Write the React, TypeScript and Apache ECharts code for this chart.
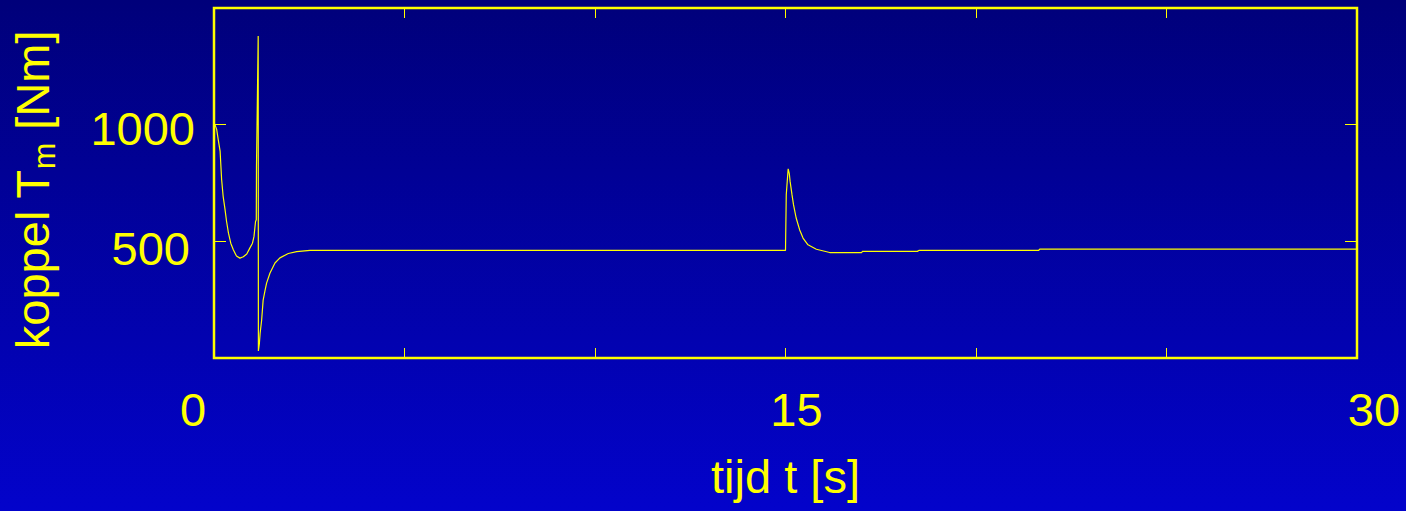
import React, { useEffect, useRef } from "react";
import * as echarts from "echarts";

// Motor torque T_m [Nm] against time t [s]
const timeS: number[] = [
  0, 0.03, 0.07, 0.11, 0.16, 0.2, 0.24, 0.29, 0.33, 0.38, 0.44, 0.51, 0.59, 0.68, 0.77, 0.86, 0.94, 1.01, 1.05,
  1.09, 1.11, 1.115, 1.16, 1.165, 1.19, 1.21, 1.25, 1.29, 1.34, 1.38, 1.47, 1.6, 1.73, 1.95, 2.17, 2.52,
  15.0, 15.02, 15.07, 15.1, 15.12, 15.17, 15.21, 15.28, 15.37, 15.46, 15.59, 15.81, 16.16, 17.0, 17.02, 18.46, 18.5,
  21.64, 21.68, 30,
];
const torqueNm: number[] = [
  1000, 998, 980, 937, 887, 765, 693, 636, 585, 535, 492, 463, 437, 428, 434, 446, 471, 492, 521,
  585, 592, 821, 1380, 30, 60, 105, 162, 248, 290, 321, 364, 407, 429, 448, 456, 461,
  461, 700, 811, 790, 758, 700, 657, 600, 550, 514, 485, 466, 452, 452, 457, 457, 461,
  461, 467, 467,
];

const xTicks = { min: 0, max: 30, step: 5 };
const xLabelled: number[] = [0, 15, 30];
const yTicks = { min: 0, max: 1500, step: 500 };
const yLabelled: number[] = [500, 1000];

const xTitle = "tijd t [s]";
const yTitleMain = "koppel T";
const yTitleSub = "m";
const yTitleUnit = " [Nm]";

const FONT = "'Liberation Sans', Arial, Helvetica, sans-serif";
const YELLOW = "#ffff00";

export default function App() {
  const ref = useRef<HTMLDivElement>(null);

  useEffect(() => {
    if (!ref.current) return;
    const chart = echarts.init(ref.current, undefined, { renderer: "svg" });

    const series = timeS.map((t, i) => [t, torqueNm[i]]);

    const tickStyle = { show: true, inside: true, lineStyle: { color: YELLOW, width: 1 } };
    const hiddenLine = { show: false, onZero: false };

    // per-label nudges for the large tick labels
    const xRich: Record<string, any> = {
      l: { fontSize: 47, fontFamily: FONT, color: YELLOW, padding: [0, 42, 0, 0] },
      m: { fontSize: 47, fontFamily: FONT, color: YELLOW, padding: [0, 0, 0, 22] },
      r: { fontSize: 47, fontFamily: FONT, color: YELLOW, padding: [0, 0, 0, 34] },
    };
    const yRich: Record<string, any> = {
      a: { fontSize: 47, fontFamily: FONT, color: YELLOW, padding: [15, 5, 0, 0] },
      b: { fontSize: 47, fontFamily: FONT, color: YELLOW, padding: [7, 0, 0, 0] },
    };

    chart.setOption({
      animation: false,
      backgroundColor: new echarts.graphic.LinearGradient(0, 0, 0, 1, [
        { offset: 0, color: "#00007a" },
        { offset: 1, color: "#0303cb" },
      ]),
      grid: {
        left: 214,
        top: 8,
        width: 1143,
        height: 350,
        show: true,
        borderColor: YELLOW,
        borderWidth: 2.5,
        backgroundColor: "transparent",
        containLabel: false,
      },
      xAxis: [
        {
          type: "value",
          min: xTicks.min,
          max: xTicks.max,
          interval: xTicks.step,
          position: "bottom",
          axisLine: hiddenLine,
          axisTick: { ...tickStyle, length: 10 },
          splitLine: { show: false },
          axisLabel: {
            margin: 28,
            color: YELLOW,
            fontSize: 47,
            fontFamily: FONT,
            formatter: (v: number) => {
              if (!xLabelled.includes(v)) return "";
              const key = v === xLabelled[0] ? "l" : v === xLabelled[xLabelled.length - 1] ? "r" : "m";
              return `{${key}|${v}}`;
            },
            rich: xRich,
          },
          name: xTitle,
          nameLocation: "middle",
          nameGap: 95,
          nameTextStyle: { color: YELLOW, fontSize: 47, fontFamily: FONT },
        },
        {
          type: "value",
          min: xTicks.min,
          max: xTicks.max,
          interval: xTicks.step,
          position: "top",
          axisLine: hiddenLine,
          axisTick: { ...tickStyle, length: 10 },
          splitLine: { show: false },
          axisLabel: { show: false },
        },
      ],
      yAxis: [
        {
          type: "value",
          min: yTicks.min,
          max: yTicks.max,
          interval: yTicks.step,
          position: "left",
          axisLine: hiddenLine,
          axisTick: { ...tickStyle, length: 12 },
          splitLine: { show: false },
          axisLabel: {
            margin: 19,
            color: YELLOW,
            fontSize: 47,
            fontFamily: FONT,
            formatter: (v: number) => {
              if (!yLabelled.includes(v)) return "";
              return v === yLabelled[0] ? `{a|${v}}` : `{b|${v}}`;
            },
            rich: yRich,
          },
          name: `{t|${yTitleMain}}{s|${yTitleSub}}{t|${yTitleUnit}}`,
          nameLocation: "middle",
          nameRotate: 90,
          nameGap: 154,
          nameTextStyle: {
            color: YELLOW,
            fontFamily: FONT,
            padding: [0, 14, 0, 0],
            rich: {
              t: { fontSize: 47, fontFamily: FONT, color: YELLOW, lineHeight: 56 },
              s: { fontSize: 32, fontFamily: FONT, color: YELLOW, lineHeight: 12, verticalAlign: "bottom" },
            },
          },
        },
        {
          type: "value",
          min: yTicks.min,
          max: yTicks.max,
          interval: yTicks.step,
          position: "right",
          axisLine: hiddenLine,
          axisTick: { ...tickStyle, length: 12 },
          splitLine: { show: false },
          axisLabel: { show: false },
        },
      ],
      series: [
        {
          type: "line",
          data: series,
          xAxisIndex: 0,
          yAxisIndex: 0,
          showSymbol: false,
          symbol: "none",
          lineStyle: { color: YELLOW, width: 1.2 },
          silent: true,
        },
      ],
    });

    return () => chart.dispose();
  }, []);

  return (
    <div
      ref={ref}
      style={{ position: "fixed", left: 0, top: 0, width: 1406, height: 511 }}
    />
  );
}
